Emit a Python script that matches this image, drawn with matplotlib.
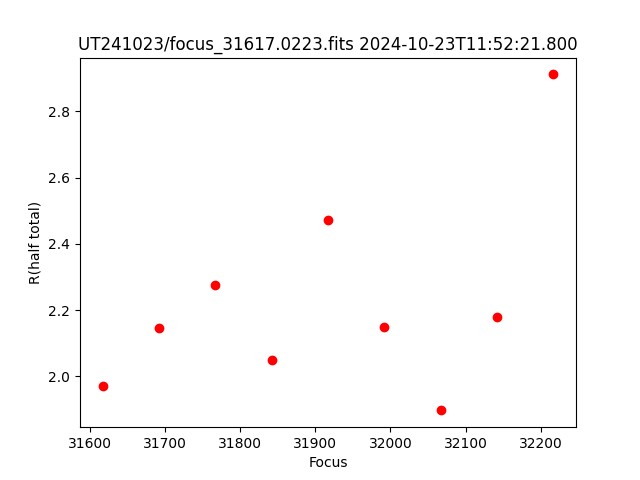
import matplotlib
matplotlib.use("Agg")
import matplotlib.pyplot as plt

focus = [31617, 31692, 31767, 31842, 31917, 31992, 32067, 32142, 32217]
r_half = [1.970, 2.145, 2.275, 2.048, 2.471, 2.148, 1.897, 2.178, 2.912]

fig, ax = plt.subplots(figsize=(6.4, 4.8), dpi=100)
ax.plot(focus, r_half, 'ro')
ax.set_xlabel("Focus")
ax.set_ylabel("R(half total)")
ax.set_title("UT241023/focus_31617.0223.fits 2024-10-23T11:52:21.800")
fig.savefig("out.png")
